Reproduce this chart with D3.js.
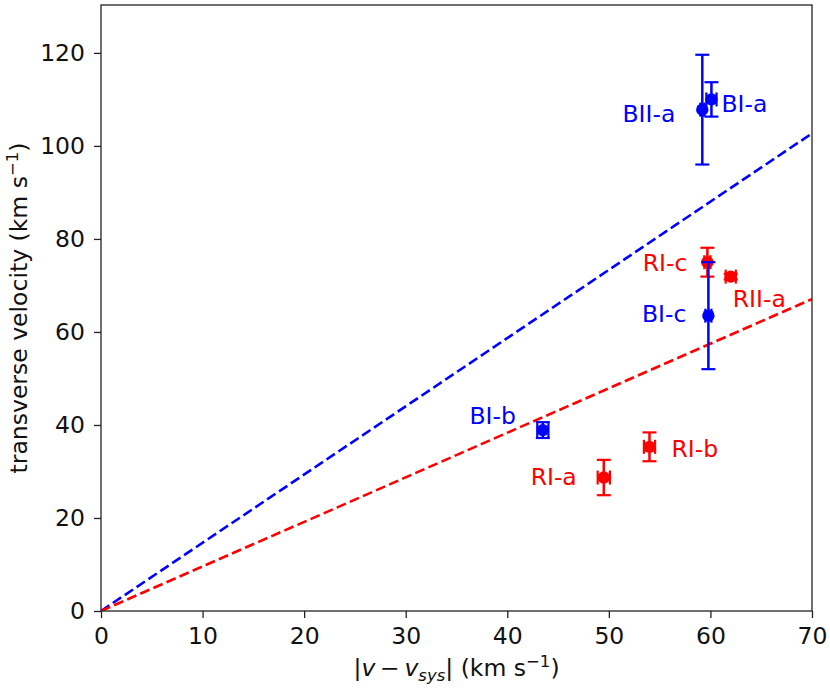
<!DOCTYPE html>
<html>
<head>
<meta charset="utf-8">
<script src="https://cdn.jsdelivr.net/npm/d3@7"></script>
<style>
  body { margin: 0; background: #fff; }
  svg text { font-family: "DejaVu Sans", sans-serif; }
</style>
</head>
<body>
<svg id="chart" width="830" height="690"></svg>
<script>
// data
const names   = ["BII-a", "BI-a", "RI-c", "RII-a", "BI-c", "BI-b", "RI-b", "RI-a"]
const colors  = ["blue", "blue", "red", "red", "blue", "blue", "red", "red"]
const xVals   = [59.2, 60.1, 59.7, 62.0, 59.8, 43.5, 54.0, 49.5]
const yVals   = [107.8, 110.0, 75.0, 71.9, 63.5, 38.9, 35.3, 28.7]
const xErrs   = [0.2, 0.5, 0.3, 0.5, 0.3, 0.55, 0.55, 0.6]
const yErrs   = [11.8, 3.7, 3.1, 0.6, 11.5, 1.7, 3.1, 3.8]
// label offsets (px) relative to the point, and anchor
const labelDx = [-27, 10, -20, 2, -22, -27, 22, -27]
const labelDy = [12, 13, 9, 30, 6, -6, 10, 7]
const labelAnchor = ["end", "start", "end", "start", "end", "end", "start", "end"]

const lineColors = ["blue", "red"]
const lineSlopes = [1.467, 0.958]

const xTicks = [0, 10, 20, 30, 40, 50, 60, 70]
const yTicks = [0, 20, 40, 60, 80, 100, 120]

const svg = d3.select("#chart")
const m_left = 101, m_right = 812, m_top = 5, m_bottom = 611
const fontSize = 23.5

const x = d3.scaleLinear().domain([0, 70]).range([m_left, m_right])
const y = d3.scaleLinear().domain([0, 130.3]).range([m_bottom, m_top])

const points = names.map((n, i) => ({
    name: n, color: colors[i], x: xVals[i], y: yVals[i], xe: xErrs[i], ye: yErrs[i],
    dx: labelDx[i], dy: labelDy[i], anchor: labelAnchor[i]
}))

// clip for dashed lines
svg.append("clipPath").attr("id", "plot-clip")
    .append("rect").attr("x", m_left).attr("y", m_top).attr("width", m_right - m_left).attr("height", m_bottom - m_top)

// dashed fit lines
svg.append("g").attr("clip-path", "url(#plot-clip)")
    .selectAll("line")
    .data(lineSlopes)
    .enter()
    .append("line")
    .attr("x1", x(0)).attr("y1", y(0))
    .attr("x2", x(70)).attr("y2", (d) => y(70 * d))
    .attr("stroke", (d, i) => lineColors[i])
    .attr("stroke-width", 2.6)
    .attr("stroke-dasharray", "10,4.3")

// error bars and markers
const pg = svg.append("g").selectAll("g")
    .data(points)
    .enter()
    .append("g")
const cap = 7
pg.append("line") // vertical
    .attr("x1", d => x(d.x)).attr("x2", d => x(d.x))
    .attr("y1", d => y(d.y - d.ye)).attr("y2", d => y(d.y + d.ye))
    .attr("stroke", d => d.color).attr("stroke-width", 2.5)
pg.append("line") // horizontal
    .attr("x1", d => x(d.x - d.xe)).attr("x2", d => x(d.x + d.xe))
    .attr("y1", d => y(d.y)).attr("y2", d => y(d.y))
    .attr("stroke", d => d.color).attr("stroke-width", 2.5)
pg.each(function(d) {
    const g = d3.select(this)
    const caps = [
        [x(d.x) - cap, y(d.y - d.ye), x(d.x) + cap, y(d.y - d.ye)],
        [x(d.x) - cap, y(d.y + d.ye), x(d.x) + cap, y(d.y + d.ye)],
        [x(d.x - d.xe), y(d.y) - cap, x(d.x - d.xe), y(d.y) + cap],
        [x(d.x + d.xe), y(d.y) - cap, x(d.x + d.xe), y(d.y) + cap]
    ]
    g.selectAll(".cap").data(caps).enter().append("line")
        .attr("class", "cap")
        .attr("x1", c => c[0]).attr("y1", c => c[1])
        .attr("x2", c => c[2]).attr("y2", c => c[3])
        .attr("stroke", d.color).attr("stroke-width", 2.2)
})
pg.append("circle")
    .attr("cx", d => x(d.x)).attr("cy", d => y(d.y))
    .attr("r", 6.2)
    .attr("fill", d => d.color)
pg.append("text")
    .attr("x", d => x(d.x) + d.dx)
    .attr("y", d => y(d.y) + d.dy)
    .attr("text-anchor", d => d.anchor)
    .attr("font-size", fontSize)
    .attr("fill", d => d.color)
    .text(d => d.name)

// axes
const xAxis = svg.append("g").attr("transform", `translate(0,${m_bottom})`)
    .call(d3.axisBottom(x).tickValues(xTicks).tickSize(7).tickPadding(9))
const yAxis = svg.append("g").attr("transform", `translate(${m_left},0)`)
    .call(d3.axisLeft(y).tickValues(yTicks).tickSize(7).tickPadding(9))
;[xAxis, yAxis].forEach(a => {
    a.select(".domain").remove()
    a.selectAll("line").attr("stroke", "#222").attr("stroke-width", 1.3)
    a.selectAll("text").attr("font-size", fontSize).attr("fill", "#111")
        .style("font-family", "DejaVu Sans, sans-serif")
})
// frame
svg.append("rect")
    .attr("x", m_left).attr("y", m_top).attr("width", m_right - m_left).attr("height", m_bottom - m_top)
    .attr("fill", "none").attr("stroke", "#222").attr("stroke-width", 1.3)

// axis labels
const xl = svg.append("text")
    .attr("x", (m_left + m_right) / 2).attr("y", 676)
    .attr("text-anchor", "middle").attr("font-size", fontSize).attr("fill", "#111")
xl.append("tspan").text("|")
xl.append("tspan").attr("font-style", "italic").text("v")
xl.append("tspan").text("\u2009−\u2009")
xl.append("tspan").attr("font-style", "italic").text("v")
xl.append("tspan").attr("font-style", "italic").attr("font-size", 16.5).attr("dy", 5).text("sys")
xl.append("tspan").attr("dy", -5).text("| (km s")
xl.append("tspan").attr("font-size", 16.5).attr("dy", -9).text("−1")
xl.append("tspan").attr("dy", 9).text(")")

const yl = svg.append("text")
    .attr("transform", `translate(27,${(m_top + m_bottom) / 2}) rotate(-90)`)
    .attr("text-anchor", "middle").attr("font-size", fontSize).attr("fill", "#111")
yl.append("tspan").text("transverse velocity (km s")
yl.append("tspan").attr("font-size", 16.5).attr("dy", -9).text("−1")
yl.append("tspan").attr("dy", 9).text(")")
</script>
</body>
</html>
